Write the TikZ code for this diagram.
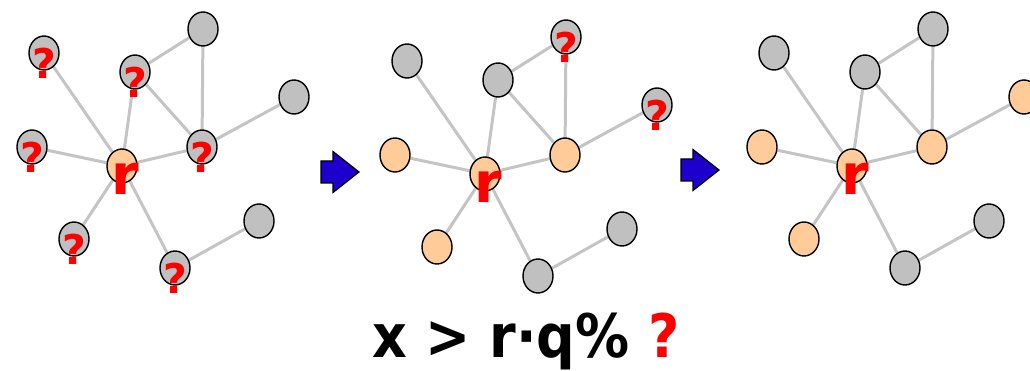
\documentclass[tikz,border=0pt]{standalone}
\usepackage{fontspec}
\usepackage{graphicx}
\setmainfont{DejaVu Sans}
\usetikzlibrary{shapes.geometric,backgrounds}
\definecolor{nodegrey}{HTML}{C0C0C0}
\definecolor{peach}{HTML}{FFCC99}
\definecolor{edgegrey}{HTML}{C4C4C4}
\definecolor{arrowblue}{HTML}{1E00CC}
\tikzset{
  gnode/.style={ellipse,draw=black,line width=1.4pt,minimum width=30pt,minimum height=34pt,inner sep=0pt},
  plain/.style={gnode,fill=nodegrey},
  done/.style={gnode,fill=peach},
  qmark/.style={text=red,font=\fontsize{41}{41}\selectfont\bfseries,yshift=-10pt,inner sep=0pt},
  rmark/.style={text=red,font=\fontsize{56}{56}\selectfont\bfseries,yshift=-13pt,xshift=3pt,inner sep=0pt},
  ask/.style={plain,label={[qmark]center:?}},
  root/.style={done,label={[rmark]center:r}},
  edge/.style={draw=edgegrey,line width=3pt},
  blockarrow/.style={draw=black,line width=1.2pt,fill=arrowblue,line join=miter},
  formula/.style={font=\fontsize{60}{60}\selectfont\bfseries,anchor=base,inner sep=0pt},
}
\newcommand{\graphpanel}[3]{%
  % #1 name prefix, #2 shift, #3 states of nodes a..i
  \begin{scope}[shift={#2}]
    \node[root] (#1r) at (122,166) {};
    \foreach \n/\x/\y [count=\k from 0] in {a/44/53,b/135/72,c/203/29,d/294/97,e/202/147,f/32/147,g/74/239,h/175/268,i/259/221}{
      \pgfmathsetmacro{\nstate}{{#3}[\k]}
      \node[\nstate] (#1\n) at (\x,\y) {};
    }
    \begin{scope}[on background layer]
      \foreach \u/\v in {r/a,r/b,r/e,r/f,r/g,r/h,b/c,b/e,c/e,e/d,h/i}
        \draw[edge] (#1\u) -- (#1\v);
    \end{scope}
  \end{scope}}

\begin{document}
\begin{tikzpicture}[x=1pt,y=-1pt]
  \useasboundingbox (0,0) rectangle (1030,371);
  \graphpanel{p}{(0,0)}{"ask","ask","plain","plain","ask","ask","ask","ask","plain"}
  \graphpanel{q}{(363,8)}{"plain","plain","ask","ask","done","done","done","plain","plain"}
  \graphpanel{s}{(730,0)}{"plain","plain","plain","done","done","done","done","plain","plain"}
  \draw[blockarrow,shift={(321,172)}] (0,-11) -- (12,-11) -- (12,-20.5) -- (38,0) -- (12,20.5) -- (12,11) -- (0,11) -- cycle;
  \draw[blockarrow,shift={(681,170)}] (0,-11) -- (12,-11) -- (12,-20.5) -- (38,0) -- (12,20.5) -- (12,11) -- (0,11) -- cycle;
  \node[formula] (cond) at (526,357) {\scalebox{0.9}[1]{x > r·q\% \textcolor{red}{?}}};
\end{tikzpicture}
\end{document}
